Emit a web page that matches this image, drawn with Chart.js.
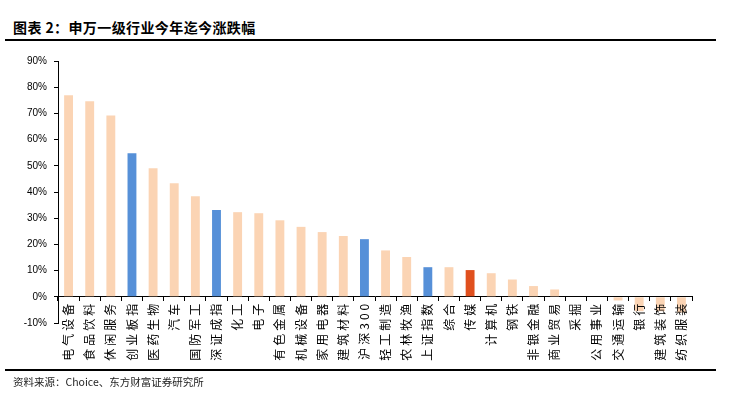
<!DOCTYPE html>
<html>
<head>
<meta charset="utf-8">
<script src="https://cdn.jsdelivr.net/npm/chart.js@4"></script>
<style>
  body { margin: 0; background: #fff; }
  #wrap { position: relative; width: 750px; height: 398px; overflow: hidden; }
  #title { position: absolute; left: 13px; top: 17px; font: bold 14px "Noto Sans CJK SC", sans-serif; letter-spacing: 0.4px; color: #000; white-space: nowrap; }
  .rule { position: absolute; left: 5px; width: 711px; height: 2px; background: #000; }
  #src { position: absolute; left: 13px; top: 374px; font: 10.5px "Noto Sans CJK SC", sans-serif; color: #222; white-space: nowrap; }
  #box { position: absolute; left: 0; top: 0; width: 750px; height: 398px; }
</style>
</head>
<body>
<div id="wrap">
  <div id="title">图表 2：申万一级行业今年迄今涨跌幅</div>
  <div class="rule" style="top:39px"></div>
  <div id="box"><canvas id="myChart"></canvas></div>
  <div class="rule" style="top:369px"></div>
  <div id="src">资料来源：Choice、东方财富证券研究所</div>
</div>
<script>
// industries + indices, sorted by YTD change
const categories = ['电气设备', '食品饮料', '休闲服务', '创业板指', '医药生物', '汽车', '国防军工', '深证成指',
  '化工', '电子', '有色金属', '机械设备', '家用电器', '建筑材料', '沪深300', '轻工制造', '农林牧渔', '上证指数',
  '综合', '传媒', '计算机', '钢铁', '非银金融', '商业贸易', '采掘', '公用事业', '交通运输', '银行', '建筑装饰', '纺织服装'];
const changes = [76.9, 74.6, 69.2, 54.8, 49.1, 43.3, 38.4, 33.1,
  32.3, 31.9, 29.2, 26.7, 24.7, 23.2, 22.0, 17.7, 15.2, 11.3,
  11.3, 10.2, 9.0, 6.6, 4.1, 2.8, 0, 0, -1.4, -5.5, -5.5, -6.0];
const indexNames = ['创业板指', '深证成指', '沪深300', '上证指数'];
const focusName = '传媒';
const yMin = -10, yMax = 90, yStep = 10;

const colors = categories.map(c => {
    if (c === focusName) return '#E0501E';
    if (indexNames.includes(c)) return '#5690D8';
    return '#FBD4B4';
});

// wider spacing for the rotated category labels
const spacing = {
    id: 'spacing',
    afterDatasetsDraw(chart) { chart.ctx.letterSpacing = '3px'; },
    afterDraw(chart) { chart.ctx.letterSpacing = '0px'; }
};

var ctx = document.getElementById('myChart').getContext('2d');
var myChart = new Chart(ctx, {
    type: 'bar',
    data: {
        labels: categories,
        datasets: [{
            data: changes,
            backgroundColor: colors,
            borderWidth: 0,
            categoryPercentage: 1,
            barPercentage: 0.42
        }]
    },
    plugins: [spacing],
    options: {
        responsive: true,
        maintainAspectRatio: false,
        animation: false,
        layout: { padding: { left: 0, top: 61, right: 58, bottom: 75 } },
        plugins: {
            legend: { display: false },
            tooltip: { enabled: false }
        },
        scales: {
            x: {
                position: { y: 0 },
                grid: { drawOnChartArea: false, tickLength: 4, color: '#000', lineWidth: 1 },
                border: { color: '#000', width: 1 },
                ticks: {
                    z: 1,
                    autoSkip: false,
                    minRotation: 90,
                    maxRotation: 90,
                    padding: 0,
                    color: '#000',
                    font: { family: '"Noto Sans CJK SC", sans-serif', size: 12 }
                }
            },
            y: {
                min: yMin,
                max: yMax,
                afterFit(scale) { scale.width = 58; },
                grid: { drawOnChartArea: false, tickLength: 4, color: '#000', lineWidth: 1 },
                border: { color: '#000', width: 1 },
                ticks: {
                    stepSize: yStep,
                    padding: 7,
                    color: '#000',
                    font: { family: '"Liberation Sans", Arial, sans-serif', size: 10 },
                    callback: v => v + '%'
                }
            }
        }
    }
});
</script>
</body>
</html>
